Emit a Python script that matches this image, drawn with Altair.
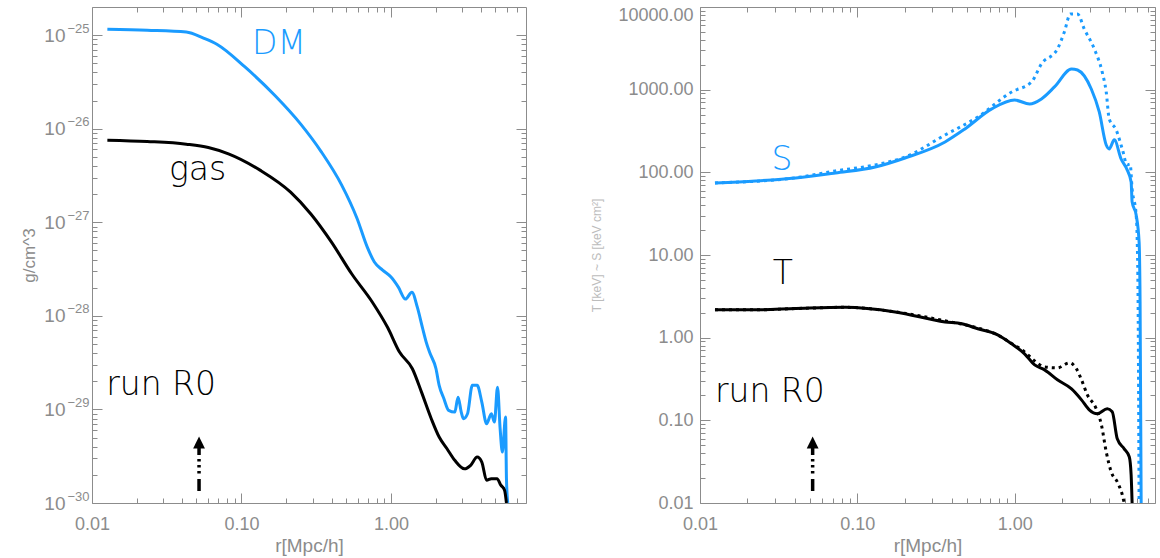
import altair as alt
import pandas as pd

# ---------------- data ----------------
# left panel: density profiles [g/cm^3] vs r [Mpc/h]
dm_r = [0.01267, 0.0234, 0.0427, 0.0557, 0.0684, 0.105, 0.168, 0.249, 0.341, 0.468, 0.593,
        0.694, 0.774, 0.879, 1.0, 1.12, 1.25, 1.38, 1.5, 1.62, 1.72, 1.81, 2.00, 2.10, 2.26,
        2.43, 2.67, 2.81, 2.95, 3.05, 3.25, 3.50, 3.77, 4.05, 4.36, 4.69, 4.92, 5.16, 5.37,
        5.56, 5.84, 5.92, 6.04]
dm_rho = [1.16e-25, 1.13e-25, 1.08e-25, 9.3e-26, 8.0e-26, 4.6e-26, 2.25e-26, 1.12e-26,
          5.7e-27, 2.5e-27, 1.1e-27, 5.43e-28, 3.76e-28, 3.08e-28, 2.60e-28, 2.03e-28,
          1.51e-28, 1.79e-28, 1.24e-28, 7.6e-29, 5.25e-29, 4.10e-29, 2.72e-29, 1.81e-29,
          1.30e-29, 9.77e-30, 9.37e-30, 1.35e-29, 9.37e-30, 7.96e-30, 8.99e-30, 1.81e-29,
          1.81e-29, 1.20e-29, 7.03e-30, 8.99e-30, 7.33e-30, 1.73e-29, 6.22e-30, 3.51e-30,
          8.30e-30, 1.82e-30, 1.0e-30]
gas_r = [0.01267, 0.0234, 0.0427, 0.06, 0.0826, 0.133, 0.213, 0.292, 0.400, 0.547, 0.751,
         0.95, 1.14, 1.39, 1.60, 1.86, 2.10, 2.37, 2.67, 3.10, 3.41, 3.77, 4.05, 4.36, 4.69,
         5.12, 5.43, 5.75, 5.92]
gas_rho = [7.55e-27, 7.3e-27, 6.84e-27, 6.3e-27, 5.36e-27, 3.61e-27, 2.10e-27, 1.22e-27,
           6.14e-28, 2.80e-28, 1.40e-28, 7.5e-29, 4.10e-29, 2.72e-29, 1.53e-29, 7.96e-30,
           5.07e-30, 3.80e-30, 2.86e-30, 2.32e-30, 2.53e-30, 3.10e-30, 2.74e-30, 1.75e-30,
           1.82e-30, 1.82e-30, 1.55e-30, 1.37e-30, 1.0e-30]

# right panel: entropy S and temperature T (solid and dotted runs)
s_r = [0.01245, 0.0226, 0.0406, 0.0726, 0.130, 0.201, 0.361, 0.483, 0.715, 1.0, 1.245, 1.48,
       1.79, 2.30, 2.51, 3.07, 3.45, 3.82, 3.99, 4.30, 4.75, 5.19, 5.50, 5.58, 5.92, 6.18,
       6.27, 6.37]
s_v = [74.5, 78.7, 85.5, 98.4, 116, 149, 233, 335, 585, 750, 671, 773, 1079, 1780, 1730,
       1019, 537, 214, 192, 247, 145, 107, 76.6, 43.9, 30.5, 14.4, 2.71, 0.01]
s_dot_r = [0.01245, 0.0406, 0.0726, 0.130, 0.201, 0.361, 0.583, 0.957, 1.28, 1.48, 1.87,
           2.07, 2.26, 2.51, 2.77, 3.21, 3.60, 3.82, 3.99, 4.42, 4.83, 5.19, 5.42, 5.58,
           5.92, 6.0, 6.09, 6.18]
s_dot_v = [74.5, 86, 104, 123, 153, 283, 468, 938, 1239, 2046, 3105, 4990, 8230, 8230, 5420,
           3105, 1637, 938, 443, 326, 192, 123, 126, 63, 30.5, 17.5, 2.7, 0.01]
t_r = [0.01245, 0.0226, 0.0406, 0.0839, 0.174, 0.361, 0.462, 0.583, 0.78, 0.957, 1.156, 1.34,
       1.55, 1.87, 2.30, 2.66, 2.98, 3.35, 3.88, 4.17, 4.49, 4.97, 5.35, 5.50, 5.58]
t_v = [2.17, 2.17, 2.25, 2.33, 2.05, 1.55, 1.47, 1.28, 1.08, 0.841, 0.637, 0.469, 0.408, 0.309,
       0.240, 0.177, 0.134, 0.120, 0.138, 0.127, 0.0598, 0.0452, 0.0362, 0.0219, 0.01]
t_dot_r = [0.01245, 0.0226, 0.0406, 0.0839, 0.174, 0.361, 0.583, 0.78, 0.957, 1.156, 1.34,
           1.55, 1.87, 2.23, 2.47, 2.66, 2.90, 3.30, 3.56, 3.82, 4.11, 4.49, 4.83, 4.97]
t_dot_v = [2.17, 2.17, 2.25, 2.33, 2.05, 1.60, 1.31, 1.08, 0.85, 0.673, 0.524, 0.443, 0.431,
           0.496, 0.420, 0.309, 0.203, 0.138, 0.0882, 0.0416, 0.0238, 0.0180, 0.0126, 0.01]

# annotations
left_texts = ["DM", "gas", "run R0"]
left_text_r = [0.178, 0.0508, 0.01245]
left_text_v = [8.0e-26, 3.6e-27, 1.82e-29]
right_texts = ["S", "T", "run R0"]
right_text_r = [0.0332, 0.0336, 0.01245]
right_text_v = [141, 5.89, 0.220]
arrow_r = 0.052
left_arrow = [1.34e-30, 3.87e-30, 4.43e-30]   # shaft bottom, shaft top, head centre
right_arrow = [0.01396, 0.0463, 0.0539]

# ticks
x_major = [0.01, 0.1, 1.0]
y_left_major = [1e-30, 1e-29, 1e-28, 1e-27, 1e-26, 1e-25]
y_left_exponents = ["−30", "−29", "−28", "−27", "−26", "−25"]
y_right_major = [0.01, 0.1, 1.0, 10.0, 100.0, 1000.0, 10000.0]

LX_MAX, RX_MAX = 8.0, 7.8
LY = [1e-30, 2e-25]
RY = [0.01, 10000.0]


def minors(lo, hi, dmin, dmax):
    out = []
    for k in range(dmin, dmax + 1):
        for m in range(2, 10):
            v = m * 10.0 ** k
            if lo < v < hi * 0.999:
                out.append(v)
    return out


x_minor_l = minors(0.01, LX_MAX, -2, 0)
x_minor_r = minors(0.01, RX_MAX, -2, 0)
y_minor_l = minors(LY[0], LY[1], -30, -25)
y_minor_r = minors(RY[0], RY[1], -2, 3)

BLUE = "#1a9bff"
GREY = "#8c8c8c"
FONT = "Liberation Sans"
TFONT = "DejaVu Sans"


def curve_df(r, v):
    return pd.DataFrame({"r": r, "v": v, "i": list(range(len(r)))})


def tick_axis(orient, values, size, **kw):
    return alt.Axis(orient=orient, values=values, tickSize=size, offset=-size, domain=False,
                    labels=False, grid=False, tickColor=GREY, tickWidth=1, title=None, **kw)


def panel(curves, xs, ys, xminor, ymajor, yminor, y_axis_main, texts, arrow, width,
          extra_y_axes=()):
    layers = []
    first = True
    base_df = None
    for df, color, dash in curves:
        if base_df is None:
            base_df = df
        mk = dict(color=color, strokeWidth=3, clip=True, interpolate="monotone")
        if dash:
            mk["strokeDash"] = [3, 4]
        if first:
            xa = alt.Axis(orient="bottom", values=x_major, tickSize=10, offset=-10, domain=False,
                          grid=False, tickColor=GREY, labelExpr="format(datum.value, '.2f')",
                          labelFont=FONT, labelFontSize=18, labelColor=GREY, labelPadding=12,
                          labelFlush=False, labelOverlap=False, title="r[Mpc/h]",
                          titleFont=FONT, titleFontSize=19, titleFontWeight="normal",
                          titleColor=GREY, titlePadding=3)
            ya = y_axis_main
        else:
            xa = None
            ya = None
        first = False
        layers.append(alt.Chart(df).mark_line(**mk).encode(
            x=alt.X("r:Q", scale=xs, axis=xa),
            y=alt.Y("v:Q", scale=ys, axis=ya),
            order="i:Q"))
    # tick-only axes: minor left/bottom, major+minor right/top
    pairs = [
        (tick_axis("bottom", xminor, 5), tick_axis("left", yminor, 5)),
        (tick_axis("top", x_major, 10), tick_axis("right", ymajor, 10)),
        (tick_axis("top", xminor, 5), tick_axis("right", yminor, 5)),
    ]
    for ea in extra_y_axes:
        pairs.append((None, ea))
    for xa, ya in pairs:
        layers.append(alt.Chart(base_df).mark_line(opacity=0).encode(
            x=alt.X("r:Q", scale=xs, axis=xa), y=alt.Y("v:Q", scale=ys, axis=ya)))
    # texts
    tdf, tcolors = texts
    for k in range(len(tdf)):
        row = tdf.iloc[[k]]
        align = "left" if row["t"].iloc[0] == "run R0" else "center"
        layers.append(alt.Chart(row).mark_text(font=TFONT, fontSize=33, fontWeight=300,
                                               color=tcolors[k], align=align,
                                               baseline="middle").encode(
            x=alt.X("r:Q", scale=xs, axis=None), y=alt.Y("v:Q", scale=ys, axis=None),
            text="t:N"))
    # arrow
    adf = pd.DataFrame({"r": [arrow_r], "y0": [arrow[0]], "y1": [arrow[1]], "yh": [arrow[2]]})
    layers.append(alt.Chart(adf).mark_rule(color="black", strokeWidth=3.5,
                                           strokeDash=[12, 5.5, 2.5, 3.5, 2.5, 3.5, 2.5, 4, 9]).encode(
        x=alt.X("r:Q", scale=xs, axis=None), y=alt.Y("y0:Q", scale=ys, axis=None), y2="y1:Q"))
    layers.append(alt.Chart(adf).mark_point(shape="M-1,1L0,-1L1,1Z", filled=True, size=140,
                                            color="black", opacity=1).encode(
        x=alt.X("r:Q", scale=xs, axis=None), y=alt.Y("yh:Q", scale=ys, axis=None)))
    return alt.layer(*layers).resolve_axis(x="independent", y="independent").properties(
        width=width, height=496)


xs_l = alt.Scale(type="log", domain=[0.01, LX_MAX], nice=False)
xs_r = alt.Scale(type="log", domain=[0.01, RX_MAX], nice=False)
ys_l = alt.Scale(type="log", domain=LY, nice=False)
ys_r = alt.Scale(type="log", domain=RY, nice=False)

# left y axis: "10" base labels plus a second axis carrying the raised exponents
ya_left = alt.Axis(orient="left", values=y_left_major, tickSize=10, offset=-10, domain=False,
                   grid=False, tickColor=GREY, labelExpr="'10'",
                   labelFont=FONT, labelFontSize=19, labelColor=GREY, labelPadding=27,
                   labelOverlap=False, labelFlush=False, title="g/cm^3", titleFont=FONT,
                   titleFontSize=17, titleFontWeight="normal", titleColor=GREY, titlePadding=5)
exp_arr = "[" + ",".join("'%s'" % s for s in y_left_exponents) + "]"
ya_left_exp = alt.Axis(orient="left", values=y_left_major, tickSize=10, offset=-10,
                       domain=False, grid=False, tickOpacity=0,
                       labelExpr=exp_arr + "[round(log(datum.value)/LN10)+30]",
                       labelFont=FONT, labelFontSize=13, labelColor=GREY, labelPadding=3,
                       labelOffset=-7, labelOverlap=False, labelFlush=False, title=None)
ya_right = alt.Axis(orient="left", values=y_right_major, tickSize=10, offset=-10, domain=False,
                    grid=False, tickColor=GREY, labelExpr="format(datum.value, '.2f')",
                    labelFont=FONT, labelFontSize=18, labelColor=GREY, labelPadding=7,
                    labelOverlap=False, labelFlush=False,
                    labelOffset={"condition": {"test": "datum.value > 5000", "value": 8}, "value": 0},
                    title="T [keV]   ~   S [keV cm²]", titleFont=FONT, titleFontSize=12,
                    titleFontWeight="normal", titleColor="#bcbcbc", titlePadding=14)

left = panel(
    [(curve_df(dm_r, dm_rho), BLUE, False), (curve_df(gas_r, gas_rho), "black", False)],
    xs_l, ys_l, x_minor_l, y_left_major, y_minor_l, ya_left,
    (pd.DataFrame({"r": left_text_r, "v": left_text_v, "t": left_texts}), [BLUE, "black", "black"]),
    left_arrow, 434, extra_y_axes=[ya_left_exp])

right = panel(
    [(curve_df(s_r, s_v), BLUE, False), (curve_df(s_dot_r, s_dot_v), BLUE, True),
     (curve_df(t_r, t_v), "black", False), (curve_df(t_dot_r, t_dot_v), "black", True)],
    xs_r, ys_r, x_minor_r, y_right_major, y_minor_r, ya_right,
    (pd.DataFrame({"r": right_text_r, "v": right_text_v, "t": right_texts}), [BLUE, "black", "black"]),
    right_arrow, 455)

chart = alt.hconcat(left, right, spacing=174, bounds="flush").properties(
    padding={"left": 20, "top": 5, "right": 0, "bottom": 0},
    background="white",
).configure_view(stroke=GREY, strokeWidth=1)

chart.save("out.html", embed_options={"renderer": "svg", "actions": False})
